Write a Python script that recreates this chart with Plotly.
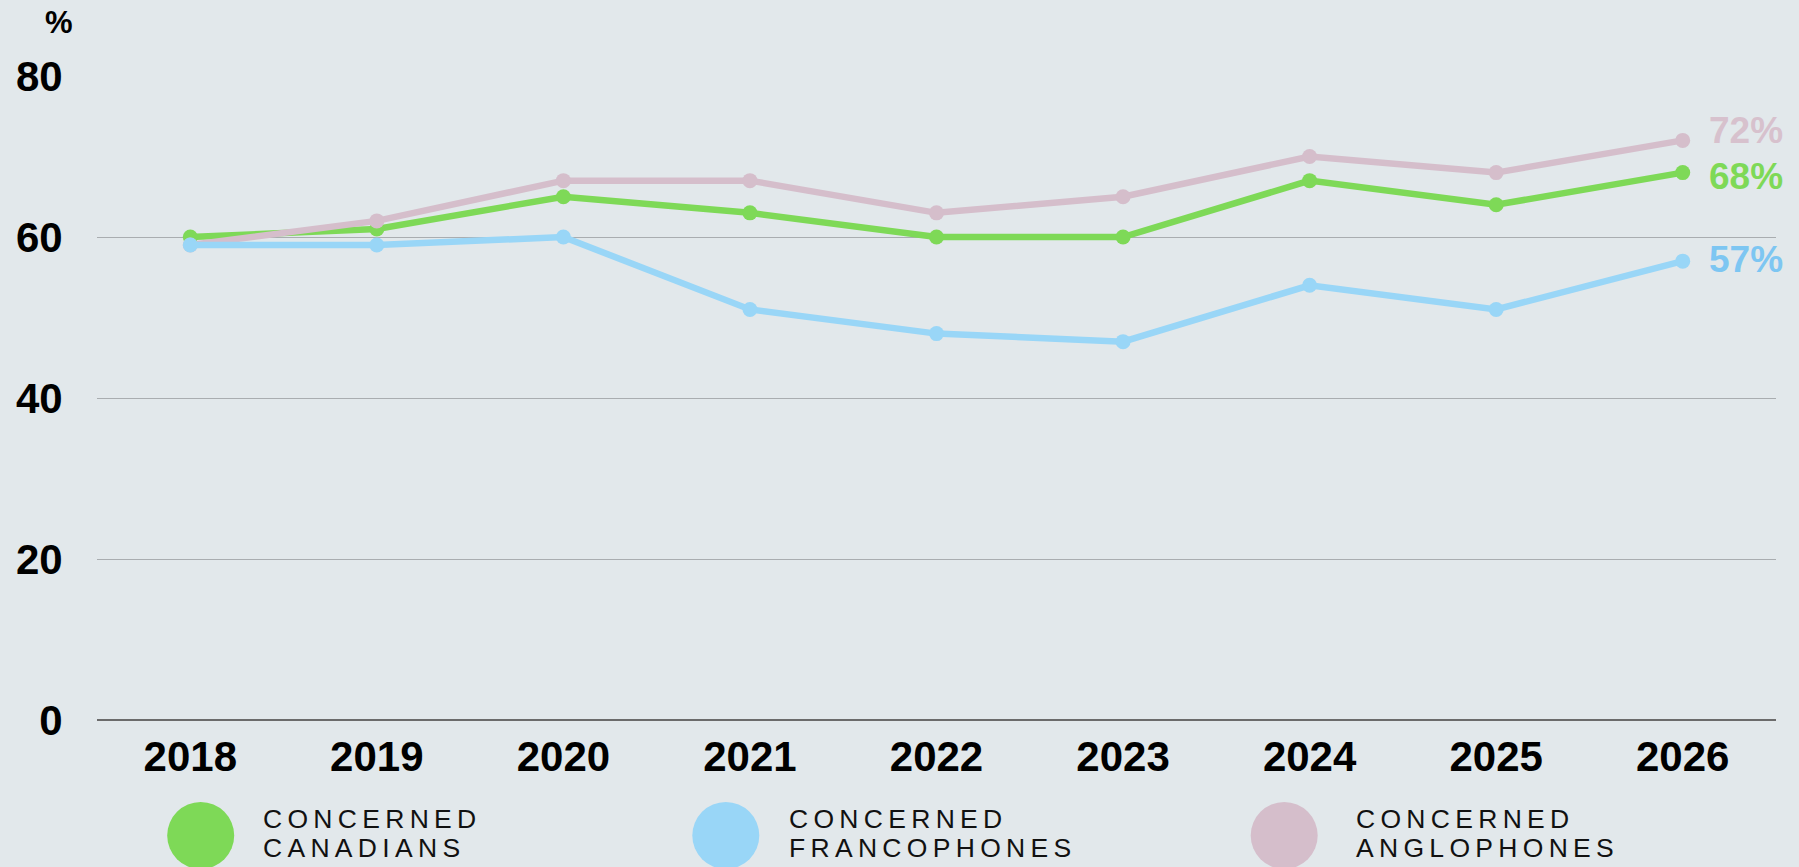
import plotly.graph_objects as go

years = [2018, 2019, 2020, 2021, 2022, 2023, 2024, 2025, 2026]
canadians = [60, 61, 65, 63, 60, 60, 67, 64, 68]
francophones = [59, 59, 60, 51, 48, 47, 54, 51, 57]
anglophones = [59, 62, 67, 67, 63, 65, 70, 68, 72]
y_ticks = [0, 20, 40, 60, 80]

line_colors = {"can": "#7ED957", "fra": "#99D6F7", "ang": "#D5BECB"}
label_colors = {"can": "#7ED957", "fra": "#7DC6F2", "ang": "#D7C1CD"}

W, H = 1799, 867
ML, MR, MT, MB = 97, 23, 76, 147
PW, PH = W - ML - MR, H - MT - MB
FONT = "Liberation Sans, Arial, sans-serif"

def px_x(x):
    return (x - ML) / PW

def px_y(y):
    return (H - MB - y) / PH

fig = go.Figure()
series = [("can", canadians), ("ang", anglophones), ("fra", francophones)]
for key, vals in series:
    fig.add_trace(go.Scatter(
        x=years, y=vals, mode="lines+markers",
        line=dict(color=line_colors[key], width=6.5),
        marker=dict(color=line_colors[key], size=15),
        showlegend=False, cliponaxis=False, hoverinfo="skip"))

# end labels
shifts = {"ang": 10, "can": -4, "fra": 2}
for key, vals in series:
    fig.add_annotation(x=years[-1], y=vals[-1], xref="x", yref="y",
                       text=f"{vals[-1]}%", showarrow=False, xanchor="left",
                       yanchor="middle", xshift=24, yshift=shifts[key],
                       font=dict(family=FONT, size=37, color=label_colors[key],
                                 weight="bold"))

# "%" unit label
fig.add_annotation(x=px_x(59), y=px_y(22), xref="paper", yref="paper", text="%",
                   showarrow=False, xanchor="center", yanchor="middle",
                   font=dict(family=FONT, size=31, color="#000000", weight="bold"))

# custom legend
TS = "\u2009"
def spaced(word):
    return TS.join(list(word))

legend_items = [("can", 200.7, 261, "CONCERNED", "CANADIANS"),
                ("fra", 725.8, 786.7, "CONCERNED", "FRANCOPHONES"),
                ("ang", 1284.2, 1354.3, "CONCERNED", "ANGLOPHONES")]
for key, cx, tx, w1, w2 in legend_items:
    fig.add_shape(type="circle", xref="paper", yref="paper",
                  xsizemode="pixel", ysizemode="pixel",
                  xanchor=px_x(cx), yanchor=px_y(835.5),
                  x0=-33.5, x1=33.5, y0=-33.5, y1=33.5,
                  fillcolor=line_colors[key], line=dict(width=0), layer="above")
    for word, cy in ((w1, 819), (w2, 847.5)):
        fig.add_annotation(x=px_x(tx), y=px_y(cy), xref="paper", yref="paper",
                           text=spaced(word), showarrow=False,
                           xanchor="left", yanchor="middle", align="left",
                           font=dict(family=FONT, size=26.5, color="#111111"))

fig.update_layout(
    width=W, height=H,
    margin=dict(l=ML, r=MR, t=MT, b=MB, pad=0),
    paper_bgcolor="#E2E8EB", plot_bgcolor="#E2E8EB",
    showlegend=False,
    xaxis=dict(range=[2017.5, 2026.5], tickvals=years, ticktext=[str(y) for y in years],
               showgrid=False, zeroline=False, showline=False,
               ticks="outside", ticklen=0, tickcolor="rgba(0,0,0,0)",
               ticklabelstandoff=0,
               tickfont=dict(family=FONT, size=42, color="#000000", weight="bold")),
    yaxis=dict(range=[0, 80], tickvals=y_ticks, showgrid=True, gridcolor="#A9ADB0",
               gridwidth=1, zeroline=True, zerolinecolor="#6B6B6B", zerolinewidth=1.5,
               showline=False, ticks="outside", ticklen=0, tickcolor="rgba(0,0,0,0)",
               ticklabelstandoff=25,
               tickfont=dict(family=FONT, size=42, color="#000000", weight="bold")),
)

fig.write_html("out.html", config={"displayModeBar": False},
               post_script="document.body.style.margin='0';")
